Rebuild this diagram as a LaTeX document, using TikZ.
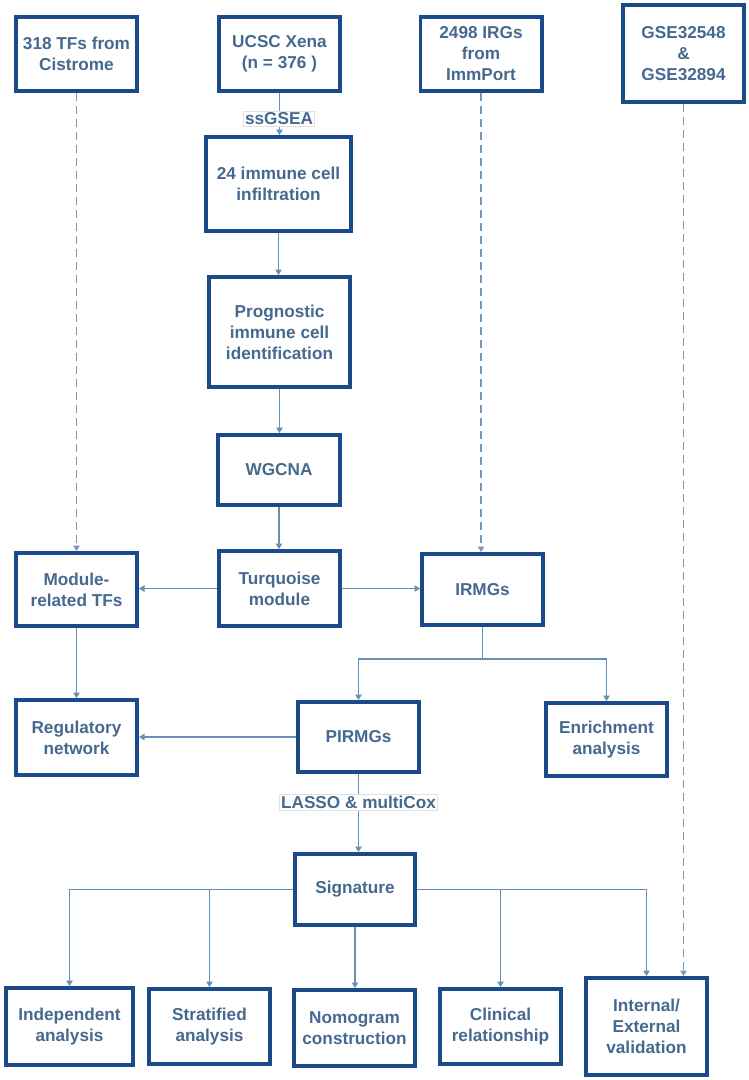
\documentclass[tikz,border=0pt]{standalone}
\usepackage{fontspec}
\setmainfont{Liberation Sans}
\usetikzlibrary{arrows.meta,calc}
\definecolor{boxc}{HTML}{1B4A8A}
\definecolor{txtc}{HTML}{46698F}
\definecolor{linec}{HTML}{6690B8}
\definecolor{dashc}{HTML}{7898BA}
\begin{document}
\begin{tikzpicture}[x=1pt,y=-1pt,
  box/.style={draw=boxc, line width=3.6pt, fill=white, text=txtc,
    font=\bfseries\fontsize{17.2}{21}\selectfont, align=center,
    inner sep=2pt, minimum width=121.4pt},
  plainline/.style={draw=linec, line width=1.3pt},
  conn/.style={plainline, -{Triangle[width=6.5pt,length=5.5pt]}},
  dconn/.style={conn, draw=dashc, dash pattern=on 8pt off 5pt},
  lbl/.style={fill=white, draw=black!12, line width=0.4pt, text=txtc,
    font=\bfseries\fontsize{17.2}{21}\selectfont, inner sep=1.5pt}]
\useasboundingbox (0,0) rectangle (749,1080);
\fill[white] (0,0) rectangle (749,1080);

% top row
\node[box, minimum height=74.4pt] (tfs) at (76.5,54) {318 TFs from\\Cistrome};
\node[box, minimum height=74.4pt] (ucsc) at (279.5,54) {UCSC Xena\\(n = 376 )};
\node[box, minimum height=74.4pt] (irgs) at (481,54) {2498 IRGs\\from\\ImmPort};
\node[box, minimum height=97.4pt] (gse) at (683.5,53.5) {GSE32548\\\&\\GSE32894};

% centre column
\node[box, minimum width=145.4pt, minimum height=94.4pt] (immune) at (278.5,184) {24 immune cell\\infiltration};
\node[box, minimum width=141.4pt, minimum height=110.4pt] (prog) at (279.5,332) {Prognostic\\immune cell\\identification};
\node[box, minimum width=122.4pt, minimum height=70.4pt] (wgcna) at (279,470) {WGCNA};

% module row
\node[box, minimum height=73.4pt] (modtf) at (76.5,589.5) {Module-\\related TFs};
\node[box, minimum height=75.4pt] (turq) at (279.5,588.5) {Turquoise\\module};
\node[box, minimum height=71.4pt] (irmgs) at (482.5,589.5) {IRMGs};

% third row
\node[box, minimum height=75.4pt] (reg) at (76.5,737.5) {Regulatory\\network};
\node[box, minimum height=70.4pt] (pirmgs) at (358.5,737) {PIRMGs};
\node[box, minimum height=73.4pt] (enrich) at (606.5,739.5) {Enrichment\\analysis};

% signature
\node[box, minimum width=120.4pt, minimum height=71.4pt] (sig) at (355,889.5) {Signature};

% bottom row
\node[box, minimum width=127.4pt, minimum height=77.4pt] (ind) at (69.5,1026.5) {Independent\\analysis};
\node[box, minimum height=75.4pt] (strat) at (209.5,1026.5) {Stratified\\analysis};
\node[box, minimum height=76.4pt] (nomo) at (354.5,1028) {Nomogram\\construction};
\node[box, minimum height=75.4pt] (clin) at (500.5,1026.5) {Clinical\\relationship};
\node[box, minimum height=97.4pt] (intext) at (646.5,1026.5) {Internal/\\External\\validation};

% connectors
\draw[dconn] (tfs.south) -- (modtf.north);
\draw[conn] (ucsc.south) -- (ucsc.south |- immune.north);
\draw[conn] (immune.south) -- (immune.south |- prog.north);
\draw[conn] (prog.south) -- (prog.south |- wgcna.north);
\draw[conn] (wgcna.south) -- (wgcna.south |- turq.north);
\draw[dconn] (irgs.south) -- (irgs.south |- irmgs.north);
\draw[dconn] (gse.south) -- (gse.south |- intext.north);

\draw[conn] (turq.west) -- (turq.west -| modtf.east);
\draw[conn] (turq.east) -- (turq.east -| irmgs.west);

\coordinate (br) at (482.5,659);
\draw[plainline] (irmgs.south) -- (br);
\draw[conn] (br) -| (pirmgs.north);
\draw[conn] (br) -| (enrich.north);

\draw[conn] (modtf.south) -- (reg.north);
\draw[conn] (pirmgs.west) -- (pirmgs.west -| reg.east);
\draw[conn] (pirmgs.south) -- (pirmgs.south |- sig.north);

\draw[conn] (sig.west) -| (ind.north);
\draw[conn] (sig.west) -| (strat.north);
\draw[conn] (sig.south) -- (sig.south |- nomo.north);
\draw[conn] (sig.east) -| (clin.north);
\draw[conn] (sig.east) -| (intext.north);

% labels
\node[lbl] (ssgsea) at (279,119) {ssGSEA};
\node[lbl] (lasso) at (358.5,802) {LASSO \& multiCox};
\end{tikzpicture}
\end{document}
